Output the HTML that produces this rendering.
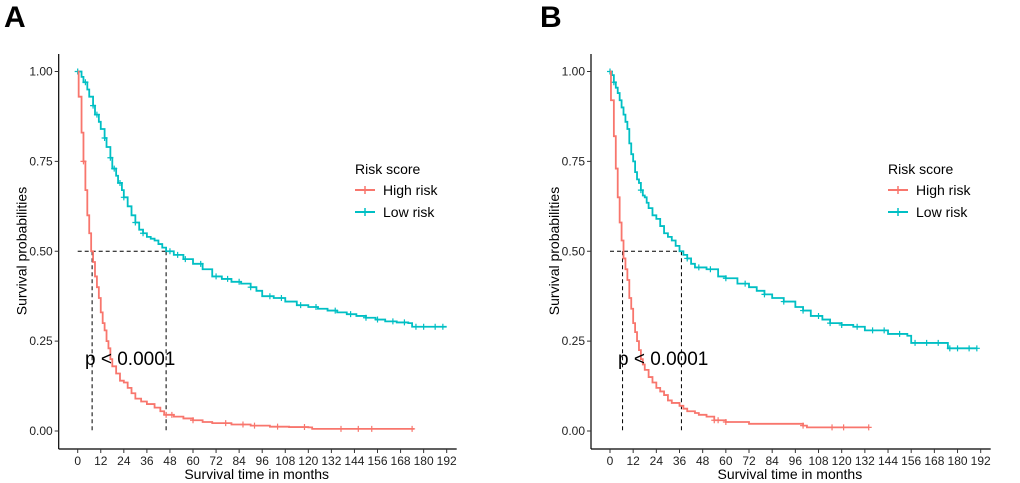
<!DOCTYPE html>
<html><head><meta charset="utf-8"><style>
body{margin:0;background:#fff;}
svg{display:block;font-family:"Liberation Sans",sans-serif;}
</style></head><body>
<svg id="svg" width="1020" height="483" viewBox="0 0 1020 483"></svg>
<script>
const xTicks=[0,12,24,36,48,60,72,84,96,108,120,132,144,156,168,180,192];
const yTicks=[0,0.25,0.5,0.75,1];
const yTickLabels=["0.00","0.25","0.50","0.75","1.00"];
const aHighT=[0,0.5,2,3,4,5,6,7,8,9,10,11,12,13,14,15,16,17,18,20,22,24,26,28,30,33,36,40,43,45,50,55,60,65,70,80,90,100,110,120,122,175];
const aHighS=[1,0.93,0.83,0.75,0.67,0.6,0.55,0.5,0.47,0.43,0.4,0.37,0.33,0.3,0.28,0.25,0.23,0.2,0.18,0.16,0.14,0.135,0.12,0.105,0.09,0.082,0.075,0.065,0.055,0.045,0.04,0.035,0.03,0.025,0.022,0.018,0.015,0.012,0.011,0.01,0.006,0.006];
const aLowT=[0,2,3,5,6,8,9,11,12,14,15,17,18,20,21,23,24,26,28,30,32,34,36,38,40,42,44,46,50,55,60,65,70,75,80,85,90,93,96,102,108,114,120,125,130,135,140,145,150,155,160,166,172,174,192];
const aLowS=[1,0.985,0.97,0.95,0.93,0.905,0.88,0.86,0.84,0.815,0.79,0.76,0.73,0.71,0.69,0.67,0.65,0.625,0.6,0.58,0.56,0.55,0.54,0.535,0.53,0.52,0.51,0.5,0.49,0.478,0.465,0.45,0.43,0.423,0.415,0.41,0.4,0.39,0.375,0.37,0.36,0.35,0.345,0.34,0.335,0.33,0.325,0.32,0.315,0.31,0.305,0.302,0.3,0.29,0.29];
const bHighT=[0,0.5,2,3,4,5,6,7,8,9,10,11,12,13,14,15,16,17,18,20,22,24,26,28,30,32,36,38,40,44,46,50,54,60,72,100,102,134];
const bHighS=[1,0.92,0.82,0.73,0.65,0.58,0.53,0.48,0.45,0.42,0.37,0.34,0.3,0.275,0.25,0.225,0.2,0.185,0.17,0.15,0.135,0.12,0.11,0.1,0.085,0.078,0.07,0.062,0.055,0.05,0.045,0.04,0.03,0.025,0.02,0.015,0.01,0.01];
const bLowT=[0,1,2,3,4,5,6,7,8,9,10,11,12,13,14,15,16,17,18,19,20,22,24,26,28,30,32,34,36,38,40,42,44,50,56,60,66,72,76,80,84,90,96,100,104,110,114,120,126,132,144,154,156,175,190];
const bLowS=[1,0.99,0.97,0.955,0.94,0.92,0.9,0.88,0.86,0.84,0.8,0.77,0.75,0.72,0.7,0.69,0.67,0.655,0.65,0.635,0.62,0.6,0.59,0.57,0.55,0.54,0.53,0.515,0.5,0.49,0.48,0.465,0.455,0.45,0.43,0.425,0.41,0.4,0.39,0.38,0.37,0.36,0.345,0.335,0.32,0.31,0.3,0.295,0.29,0.28,0.27,0.265,0.245,0.23,0.23];
const aHighCens=[3,46,49,60,77,86,92,104,118,137,146,153,174];
const aLowCens=[0,4,8,10,14,17,19,22,24,30,34,48,52,56,64,72,78,84,90,100,106,116,124,134,142,150,156,164,170,176,180,186,190];
const bHighCens=[54,56,60,100,115,121,134];
const bLowCens=[0,2,16,40,46,52,60,70,80,90,100,108,114,120,128,136,142,150,158,164,170,176,180,186,190];
const NS="http://www.w3.org/2000/svg";
const svg=document.getElementById('svg');
function el(tag,attrs,parent,text){const e=document.createElementNS(NS,tag);for(const k in attrs)e.setAttribute(k,attrs[k]);if(text!==undefined)e.textContent=text;(parent||svg).appendChild(e);return e;}
function survAt(T,S,t){let s=S[0];for(let i=0;i<T.length;i++){if(T[i]<=t)s=S[i];}return s;}
function panel(cfg){
 const g=el('g',{});
 
 
 const x=v=>cfg.x0+(v/192)*(cfg.x192-cfg.x0);
 const y=v=>431-(v)*(431-71.5);
 const lab=el('text',{x:cfg.lx,y:27,'font-size':30,'font-weight':'bold'},g,cfg.id);
 
 
 el('line',{x1:cfg.ax,y1:54,x2:cfg.ax,y2:449,stroke:'#000','stroke-width':1.2},g);
 el('line',{x1:cfg.ax,y1:449,x2:x(192)+10,y2:449,stroke:'#000','stroke-width':1.2},g);
 yTicks.forEach((v,i)=>{
  el('line',{x1:cfg.ax-4,y1:y(v),x2:cfg.ax,y2:y(v),stroke:'#333'},g);
  const t=el('text',{x:cfg.ax-6,y:y(v)+4,'font-size':12,'text-anchor':'end',fill:'#222'},g,yTickLabels[i]);
  
  
 });
 xTicks.forEach(v=>{
  el('line',{x1:x(v),y1:449,x2:x(v),y2:453,stroke:'#333'},g);
  const t=el('text',{x:x(v),y:465,'font-size':12,'text-anchor':'middle',fill:'#222'},g,String(v));
  
  
 });
 const xt=el('text',{x:(cfg.ax+x(192))/2+4,y:479,'font-size':14,'text-anchor':'middle'},g,'Survival time in months');
 
 
 const yt=el('text',{x:0,y:0,'font-size':14,'text-anchor':'middle',transform:`translate(${cfg.ax-32},251) rotate(-90)`},g,'Survival probabilities');
 
 
 const d=`M${x(0)},${y(0.5)}H${x(cfg.medL)}M${x(cfg.medH)},${y(0.5)}V${y(0)}M${x(cfg.medL)},${y(0.5)}V${y(0)}`;
 const ml=el('path',{d:d,stroke:'#000','stroke-dasharray':'4,3',fill:'none','stroke-width':1},g);
 
 
 const series=[[cfg.lowT,cfg.lowS,cfg.lowC,'#00BFC4','low-risk-curve'],[cfg.highT,cfg.highS,cfg.highC,'#F8766D','high-risk-curve']];
 series.forEach(([T,S,C,col,name])=>{
  let p=`M${x(T[0])},${y(S[0])}`;
  for(let i=1;i<T.length;i++){p+=`H${x(T[i])}V${y(S[i])}`;}
  const c=el('path',{d:p,stroke:col,'stroke-width':1.8,fill:'none'},g);
  
  
  C.forEach(t=>{
   const s=survAt(T,S,t);
   const m=el('path',{d:`M${x(t)-3},${y(s)}h6M${x(t)},${y(s)-3}v6`,stroke:col,'stroke-width':1.2},g);
   
   
  });
 });
 const pv=el('text',{x:cfg.px,y:365,'font-size':19},g,'p < 0.0001');
 
 
 const lg=el('g',{},g);
 
 
 el('text',{x:cfg.legx,y:174,'font-size':14},lg,'Risk score');
 [['High risk','#F8766D',190],['Low risk','#00BFC4',212]].forEach(([n,c,yy])=>{
  el('line',{x1:cfg.legx,y1:yy,x2:cfg.legx+20,y2:yy,stroke:c,'stroke-width':2},lg);
  el('line',{x1:cfg.legx+10,y1:yy-4,x2:cfg.legx+10,y2:yy+4,stroke:c,'stroke-width':1.5},lg);
  const le=el('text',{x:cfg.legx+28,y:yy+5,'font-size':14},lg,n);
  
  
 });
}
panel({id:'A',lx:4,ax:58.7,x0:77.7,x192:446.7,highT:aHighT,highS:aHighS,lowT:aLowT,lowS:aLowS,highC:aHighCens,lowC:aLowCens,medH:7.5,medL:46,px:85,legx:355});
panel({id:'B',lx:540,ax:591,x0:610,x192:980.7,highT:bHighT,highS:bHighS,lowT:bLowT,lowS:bLowS,highC:bHighCens,lowC:bLowCens,medH:6.5,medL:37,px:618,legx:888});
</script>
</body></html>
